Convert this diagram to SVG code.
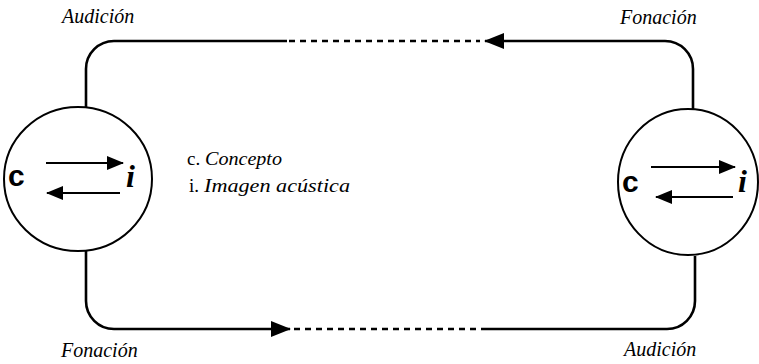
<svg xmlns="http://www.w3.org/2000/svg" width="759" height="364" viewBox="0 0 759 364">
<style>
.bg{fill:#ffffff}
.circ{fill:none;stroke:#000;stroke-width:2}
.line{fill:none;stroke:#000;stroke-width:2.6}
.dash{fill:none;stroke:#000;stroke-width:2.4;stroke-dasharray:6 5}
.inner{fill:none;stroke:#000;stroke-width:2.2}
.lbl{font-family:"Liberation Serif","DejaVu Serif",serif;font-style:italic;font-size:20px;fill:#000}
.leg{font-family:"Liberation Serif","DejaVu Serif",serif;font-size:19px;fill:#000}
.hc{font-family:"Liberation Sans",sans-serif;font-weight:bold;font-size:30px;fill:#000}
.hi{font-family:"Liberation Serif",serif;font-weight:bold;font-style:italic;font-size:32px;fill:#000}
</style>
<defs>
<marker id="big" viewBox="0 0 20 16" refX="19" refY="8" markerWidth="20" markerHeight="16" markerUnits="userSpaceOnUse" orient="auto">
<path d="M0,0 L20,8 L0,16 z" fill="#000"/>
</marker>
<marker id="small" viewBox="0 0 17 14" refX="16" refY="7" markerWidth="17" markerHeight="14" markerUnits="userSpaceOnUse" orient="auto">
<path d="M0,0 L17,7 L0,14 z" fill="#000"/>
</marker>
</defs>
<rect class="bg" x="0" y="0" width="759" height="364"/>
<g id="connectors">
<path class="line" d="M86,107 V69 A28,28 0 0 1 114,41 H287"/>
<path class="dash" d="M289,41 H480"/>
<path class="line" marker-end="url(#big)" d="M693,110 V69 A28,28 0 0 0 665,41 H485"/>
<path class="line" marker-end="url(#big)" d="M86,251 V301 A28,28 0 0 0 114,329 H290"/>
<path class="dash" d="M294,329 H482"/>
<path class="line" d="M695,256 V301 A28,28 0 0 1 667,329 H482"/>
</g>
<g id="node-left">
<ellipse class="circ" cx="78" cy="179" rx="74" ry="72"/>
<text class="hc" x="8" y="186">c</text>
<text class="hi" x="126" y="187">i</text>
<path class="inner" marker-end="url(#small)" d="M46,163 H123"/>
<path class="inner" marker-end="url(#small)" d="M120,193 H47"/>
</g>
<g id="node-right">
<ellipse class="circ" cx="688" cy="182" rx="70" ry="73"/>
<text class="hc" x="622" y="192">c</text>
<text class="hi" x="738" y="192">i</text>
<path class="inner" marker-end="url(#small)" d="M651,167 H735"/>
<path class="inner" marker-end="url(#small)" d="M733,197 H656"/>
</g>
<g id="legend">
<text class="leg" x="187" y="165">c. <tspan x="205" font-style="italic" textLength="77" lengthAdjust="spacingAndGlyphs">Concepto</tspan></text>
<text class="leg" x="189" y="192">i. <tspan x="204" font-style="italic" textLength="146" lengthAdjust="spacingAndGlyphs">Imagen acústica</tspan></text>
</g>
<g id="labels">
<text class="lbl" x="62" y="23">Audición</text>
<text class="lbl" x="620" y="24">Fonación</text>
<text class="lbl" x="61" y="357">Fonación</text>
<text class="lbl" x="624" y="356">Audición</text>
</g>
</svg>
